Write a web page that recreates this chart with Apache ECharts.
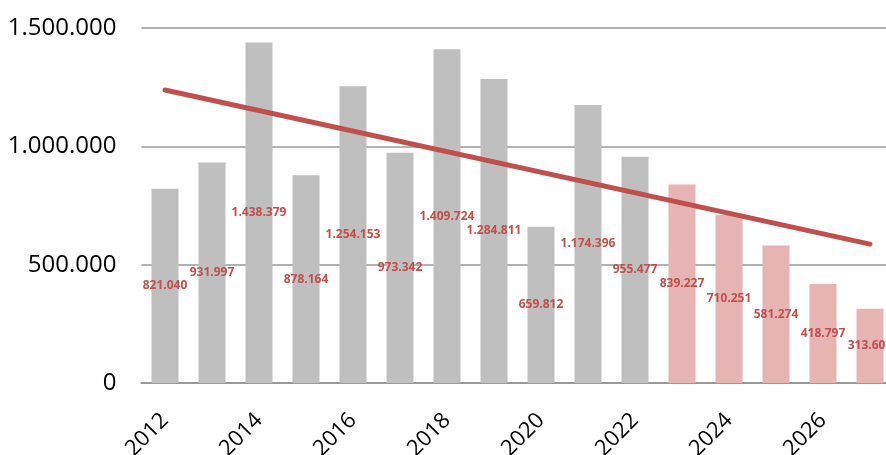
<!DOCTYPE html>
<html>
<head>
<meta charset="utf-8">
<script src="https://cdn.jsdelivr.net/npm/echarts@6/dist/echarts.min.js"></script>
<style>
  html, body { margin: 0; padding: 0; background: #fff; }
  #main { width: 886px; height: 455px; }
</style>
</head>
<body>
<div id="main"></div>
<script>
  // years on the x axis
  var years = ['2012', '2013', '2014', '2015', '2016', '2017', '2018', '2019',
               '2020', '2021', '2022', '2023', '2024', '2025', '2026', '2027'];
  // actual values (gray) and forecast values (pink)
  var actual = [821040, 931997, 1438379, 878164, 1254153, 973342, 1409724, 1284811,
                659812, 1174396, 955477, null, null, null, null, null];
  var forecast = [null, null, null, null, null, null, null, null,
                  null, null, null, 839227, 710251, 581274, 418797, 313600];
  // trend line, only the two end points
  var trend = [1238000, null, null, null, null, null, null, null,
               null, null, null, null, null, null, null, 587000];

  function fmt(v) {
    return String(v).replace(/\B(?=(\d{3})+(?!\d))/g, '.');
  }

  var labelStyle = {
    show: true,
    position: 'inside',
    color: '#c0504d',
    fontWeight: 'bold',
    fontSize: 12,
    fontFamily: 'Open Sans',
    formatter: function (p) { return fmt(p.value); }
  };

  var myChart = echarts.init(document.getElementById('main'));
  var option = {
    animation: false,
    grid: { left: 141.5, top: 28, width: 752, height: 355, outerBoundsMode: 'none' },
    xAxis: {
      type: 'category',
      data: years,
      axisLine: { lineStyle: { color: '#999', width: 2 } },
      axisTick: { show: false },
      axisLabel: {
        interval: 1,
        rotate: 45,
        margin: 34,
        fontSize: 22,
        color: '#000',
        fontFamily: 'Open Sans'
      }
    },
    yAxis: {
      type: 'value',
      min: 0,
      max: 1500000,
      interval: 500000,
      axisLine: { show: false },
      axisTick: { show: false },
      splitLine: { lineStyle: { color: '#999', width: 1.5 } },
      axisLabel: {
        margin: 25,
        fontSize: 24,
        color: '#000',
        fontFamily: 'Open Sans',
        formatter: function (v) { return fmt(v); }
      }
    },
    series: [
      {
        type: 'bar',
        data: actual,
        barWidth: 27,
        barGap: '-100%',
        itemStyle: { color: '#bfbfbf' },
        label: labelStyle
      },
      {
        type: 'bar',
        data: forecast,
        barWidth: 27,
        itemStyle: { color: '#e6b4b3' },
        label: labelStyle
      },
      {
        type: 'line',
        data: trend,
        connectNulls: true,
        symbol: 'none',
        lineStyle: { color: '#c0504d', width: 5, cap: 'round' },
        z: 5
      }
    ]
  };
  myChart.setOption(option);
</script>
</body>
</html>
